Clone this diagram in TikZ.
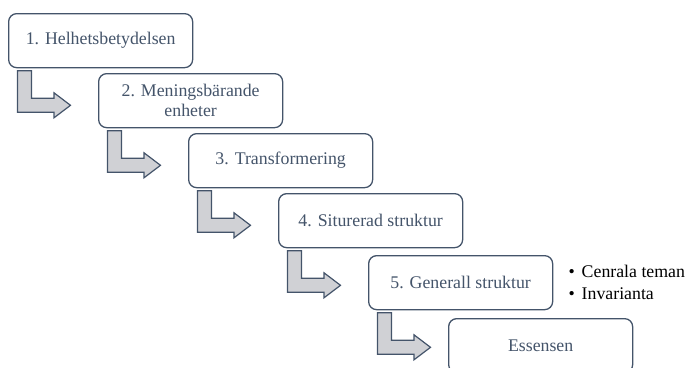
\documentclass[tikz,border=0pt]{standalone}
\usepackage{fontspec}
\setmainfont{Liberation Serif}
\usetikzlibrary{positioning,calc}
\definecolor{slate}{HTML}{44546A}
\definecolor{arrowgray}{HTML}{D0D1D5}
\tikzset{
  stepbox/.style={draw=slate, line width=1.3pt, rounded corners=8pt, fill=white,
    minimum width=184pt, minimum height=54pt, inner sep=0pt, anchor=north west,
    align=center, text=slate, font=\fontsize{17.8}{20}\selectfont},
  arrowline/.style={draw=slate, line width=1.2pt, fill=arrowgray, line join=miter},
  bendarrow/.pic={
    \draw[arrowline] (0,0) -- (14,0) -- (14,27.5) -- (36.5,27.5) -- (36.5,22)
      -- (53,34.5) -- (36.5,47) -- (36.5,41.5) -- (0,41.5) -- cycle;
  }
}

\begin{document}
\begin{tikzpicture}[x=1pt, y=-1pt]
    \clip (0,0) rectangle (687,367);
    \node[stepbox] (b1) at (8,13) {1. Helhetsbetydelsen};
    \node[stepbox] (b2) at (98,73) {2. Meningsbärande\\enheter};
    \node[stepbox] (b3) at (188,133) {3. Transformering};
    \node[stepbox] (b4) at (278,193) {4. Siturerad struktur};
    \node[stepbox] (b5) at (368,255) {5. Generall struktur};
    \node[stepbox] (b6) at (448,318) {Essensen};
    % bent arrows under each step
    \pic at ($(b1.south west)+(9.5,2.5)$) {bendarrow};
    \pic at ($(b2.south west)+(9.5,2.5)$) {bendarrow};
    \pic at ($(b3.south west)+(9.5,2.5)$) {bendarrow};
    \pic at ($(b4.south west)+(9.5,2.5)$) {bendarrow};
    \pic at ($(b5.south west)+(9.5,2.5)$) {bendarrow};
    \node[anchor=west, align=left, inner sep=0pt, font=\fontsize{17.8}{21.5}\selectfont]
      (notes) at ($(b5.east)+(15,0)$) {•\hspace{7pt}Cenrala teman\\•\hspace{7pt}Invarianta};
\end{tikzpicture}
\end{document}
